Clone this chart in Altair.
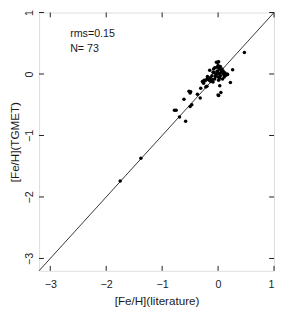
import altair as alt
import pandas as pd

# [Fe/H] literature vs TGMET
feh_lit = [0.47, 0.26, 0.22, 0.17, 0.14, 0.11, 0.09, 0.07, 0.01, -0.03,
           0.00, 0.02, -0.01, -0.08, -0.09, -0.15, -0.03, -0.05, -0.06, 0.03,
           0.01, -0.12, -0.09, -0.19, -0.18, -0.23, -0.26, -0.20, -0.22, 0.03,
           0.05, 0.00, 0.01, -0.31, -0.37, -0.32, -0.52, -0.49, -0.50, -0.47,
           -0.50, -0.61, -0.78, -0.75, -0.69, -0.58, -1.38, -1.75,
           -0.005, 0.05, 0.08, 0.16, -0.10, -0.20, 0.04, -0.02, 0.06, -0.07,
           -0.04, 0.00, -0.11, -0.14, -0.16, -0.28, -0.25, 0.10, 0.12, -0.02,
           0.02, -0.06, 0.04, -0.13, 0.08]
feh_tgmet = [0.35, 0.07, -0.14, -0.01, -0.02, -0.05, 0.05, 0.08, 0.20, 0.19,
             0.14, 0.09, 0.05, 0.08, 0.03, 0.06, 0.00, -0.04, -0.08, -0.07,
             -0.10, -0.10, -0.13, -0.04, -0.08, -0.11, -0.15, -0.20, -0.21, -0.19,
             -0.30, -0.34, -0.35, -0.23, -0.33, -0.39, -0.28, -0.29, -0.31, -0.50,
             -0.53, -0.41, -0.59, -0.59, -0.70, -0.77, -1.37, -1.74,
             0.19, 0.06, 0.03, 0.00, -0.09, -0.08, 0.12, 0.11, 0.02, 0.02,
             -0.02, -0.05, -0.03, -0.06, -0.10, -0.12, -0.10, -0.01, 0.02, 0.04,
             0.01, 0.10, -0.03, -0.12, -0.08]

axis_domain = [-3.2, 1.0]
tick_values = [-3, -2, -1, 0, 1]
annotations = ["rms=0.15", "N= 73"]

W, H = 242, 266
FONT = "Liberation Sans"
INK = "#1a1a1a"

pts = pd.DataFrame({"lit": feh_lit, "tg": feh_tgmet})
diag = pd.DataFrame({"lit": axis_domain, "tg": axis_domain})
ticks = pd.DataFrame({"v": tick_values})

xs = alt.Scale(domain=axis_domain, nice=False, zero=False)
ys = alt.Scale(domain=axis_domain, nice=False, zero=False)

x_axis = alt.Axis(values=tick_values, format="d", ticks=False, tickSize=0, domain=False, grid=False,
                  labelFont=FONT, labelFontSize=11, labelColor=INK, labelPadding=8,
                  title="[Fe/H](literature)", titleFont=FONT, titleFontSize=12,
                  titleFontWeight="normal", titleColor=INK, titlePadding=7)
y_axis = alt.Axis(values=tick_values, format="d", ticks=False, tickSize=0, domain=False, grid=False,
                  labelFont=FONT, labelFontSize=11, labelColor=INK, labelPadding=5,
                  labelAngle=270, labelAlign="center", labelBaseline="bottom",
                  title="[Fe/H](TGMET)", titleFont=FONT, titleFontSize=12,
                  titleFontWeight="normal", titleColor=INK, titlePadding=2)

line = alt.Chart(diag).mark_line(color=INK, strokeWidth=0.9).encode(
    x=alt.X("lit:Q", scale=xs, axis=x_axis),
    y=alt.Y("tg:Q", scale=ys, axis=y_axis),
)

points = alt.Chart(pts).mark_circle(color="black", opacity=1, size=13).encode(
    x=alt.X("lit:Q", scale=xs),
    y=alt.Y("tg:Q", scale=ys),
)

tick_bottom = alt.Chart(ticks).mark_rule(color=INK, strokeWidth=1).encode(
    x=alt.X("v:Q", scale=xs), y=alt.value(H), y2=alt.value(H - 5))
tick_top = alt.Chart(ticks).mark_rule(color=INK, strokeWidth=1).encode(
    x=alt.X("v:Q", scale=xs), y=alt.value(0), y2=alt.value(5))
tick_left = alt.Chart(ticks).mark_rule(color=INK, strokeWidth=1).encode(
    y=alt.Y("v:Q", scale=ys), x=alt.value(0), x2=alt.value(5))
tick_right = alt.Chart(ticks).mark_rule(color=INK, strokeWidth=1).encode(
    y=alt.Y("v:Q", scale=ys), x=alt.value(W), x2=alt.value(W - 5))

text_rms = alt.Chart(pd.DataFrame({"t": [annotations[0]]})).mark_text(
    font=FONT, fontSize=11, color=INK, align="left", baseline="middle").encode(
    text="t:N", x=alt.value(32), y=alt.value(22))
text_n = alt.Chart(pd.DataFrame({"t": [annotations[1]]})).mark_text(
    font=FONT, fontSize=11, color=INK, align="left", baseline="middle").encode(
    text="t:N", x=alt.value(32), y=alt.value(38))

chart = alt.layer(line, tick_bottom, tick_top, tick_left, tick_right, points,
                  text_rms, text_n).properties(
    width=W, height=H,
    autosize=alt.AutoSizeParams(type="none"),
    padding={"left": 32, "top": 0, "right": 1, "bottom": 44},
).configure_view(stroke=INK, strokeWidth=1).configure(background="white")

chart.save("out.html", embed_options={"renderer": "svg", "actions": False})
